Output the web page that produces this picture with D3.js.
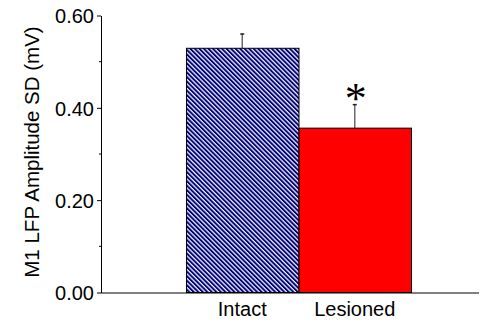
<!DOCTYPE html>
<html>
<head>
<meta charset="utf-8">
<script src="https://cdn.jsdelivr.net/npm/d3@7"></script>
<style>
  html, body { margin: 0; padding: 0; background: #fff; }
  svg { display: block; font-family: "Liberation Sans", Arial, sans-serif; }
</style>
</head>
<body>
<svg id="chart" width="493" height="324"></svg>
<script>
// Group means and standard errors of M1 LFP amplitude SD (mV)
const categories = ["Intact", "Lesioned"];
const meanValues = [0.529, 0.356];
const errorValues = [0.032, 0.052];
const significant = [false, true];
const yTickValues = [0, 0.2, 0.4, 0.6];
const yMinorTicks = [0.1, 0.3, 0.5];

const svg = d3.select("#chart");

const axisLeftX = 101, axisRightX = 479;
const y = d3.scaleLinear().domain([0, 0.6]).range([292.5, 15.5]);
const x = d3.scaleBand().domain(categories).range([186, 411]).paddingInner(0).paddingOuter(0);

// Diagonal navy / white stripes for the intact group
const defs = svg.append("defs");
const pat = defs.append("pattern")
  .attr("id", "stripes")
  .attr("patternUnits", "userSpaceOnUse")
  .attr("width", 3.2).attr("height", 10)
  .attr("patternTransform", "rotate(-45)");
pat.append("rect").attr("width", 3.2).attr("height", 10).attr("fill", "#eef0f8");
pat.append("rect").attr("width", 1.9).attr("height", 10).attr("fill", "#00007a");

const fills = { Intact: "url(#stripes)", Lesioned: "#ff0000" };

const data = categories.map((c, i) => ({
  cat: c, mean: meanValues[i], err: errorValues[i], sig: significant[i]
}));

// Error bars (drawn under the bars so only the upper half shows)
const eb = svg.append("g");
data.forEach(d => {
  const cx = x(d.cat) + x.bandwidth() / 2;
  eb.append("line")
    .attr("x1", cx).attr("x2", cx)
    .attr("y1", y(d.mean)).attr("y2", y(d.mean + d.err))
    .attr("stroke", "#6a6a6a").attr("stroke-width", 1.5);
  eb.append("line")
    .attr("x1", cx - 2).attr("x2", cx + 2)
    .attr("y1", y(d.mean + d.err) + 0.5).attr("y2", y(d.mean + d.err) + 0.5)
    .attr("stroke", "#222").attr("stroke-width", 1.5);
});

// Bars
svg.append("g").selectAll("rect")
  .data(data)
  .join("rect")
  .attr("x", d => x(d.cat) + 0.5)
  .attr("y", d => y(d.mean))
  .attr("width", x.bandwidth())
  .attr("height", d => y(0) - y(d.mean))
  .attr("fill", d => fills[d.cat])
  .attr("stroke", "#000")
  .attr("stroke-width", 1);

// Significance marker
svg.append("g").selectAll("text")
  .data(data.filter(d => d.sig))
  .join("text")
  .attr("x", d => x(d.cat) + x.bandwidth() / 2 + 1)
  .attr("y", d => y(d.mean + d.err) + 9)
  .attr("text-anchor", "middle")
  .style("font-family", "'Liberation Serif', 'Times New Roman', serif")
  .style("font-size", "44px")
  .attr("fill", "#000")
  .text("*");

// Y axis
const yAxis = d3.axisLeft(y).tickValues(yTickValues).tickFormat(d3.format(".2f"))
  .tickSizeInner(4).tickSizeOuter(0).tickPadding(3);
const gy = svg.append("g").attr("transform", `translate(${axisLeftX},0)`).call(yAxis);
gy.selectAll("text").style("font-size", "20px").attr("fill", "#000").attr("dy", "0.36em");
gy.selectAll("line").attr("stroke", "#000");
gy.select(".domain").attr("stroke", "#000");
gy.selectAll(".minor").data(yMinorTicks).join("line")
  .attr("class", "minor")
  .attr("x1", -2).attr("x2", 0)
  .attr("y1", d => y(d)).attr("y2", d => y(d))
  .attr("stroke", "#000");

// X axis baseline
svg.append("line")
  .attr("x1", axisLeftX).attr("x2", axisRightX)
  .attr("y1", y(0) + 0.5).attr("y2", y(0) + 0.5)
  .attr("stroke", "#000").attr("stroke-width", 1);

// Category labels
svg.append("g").selectAll("text")
  .data(categories)
  .join("text")
  .attr("x", d => x(d) + x.bandwidth() / 2)
  .attr("y", 316)
  .attr("text-anchor", "middle")
  .style("font-size", "20px")
  .attr("fill", "#000")
  .text(d => d);

// Y axis title
svg.append("text")
  .attr("transform", "translate(39,152) rotate(-90)")
  .attr("text-anchor", "middle")
  .style("font-size", "20.5px")
  .attr("fill", "#000")
  .text("M1 LFP Amplitude SD (mV)");
</script>
</body>
</html>
